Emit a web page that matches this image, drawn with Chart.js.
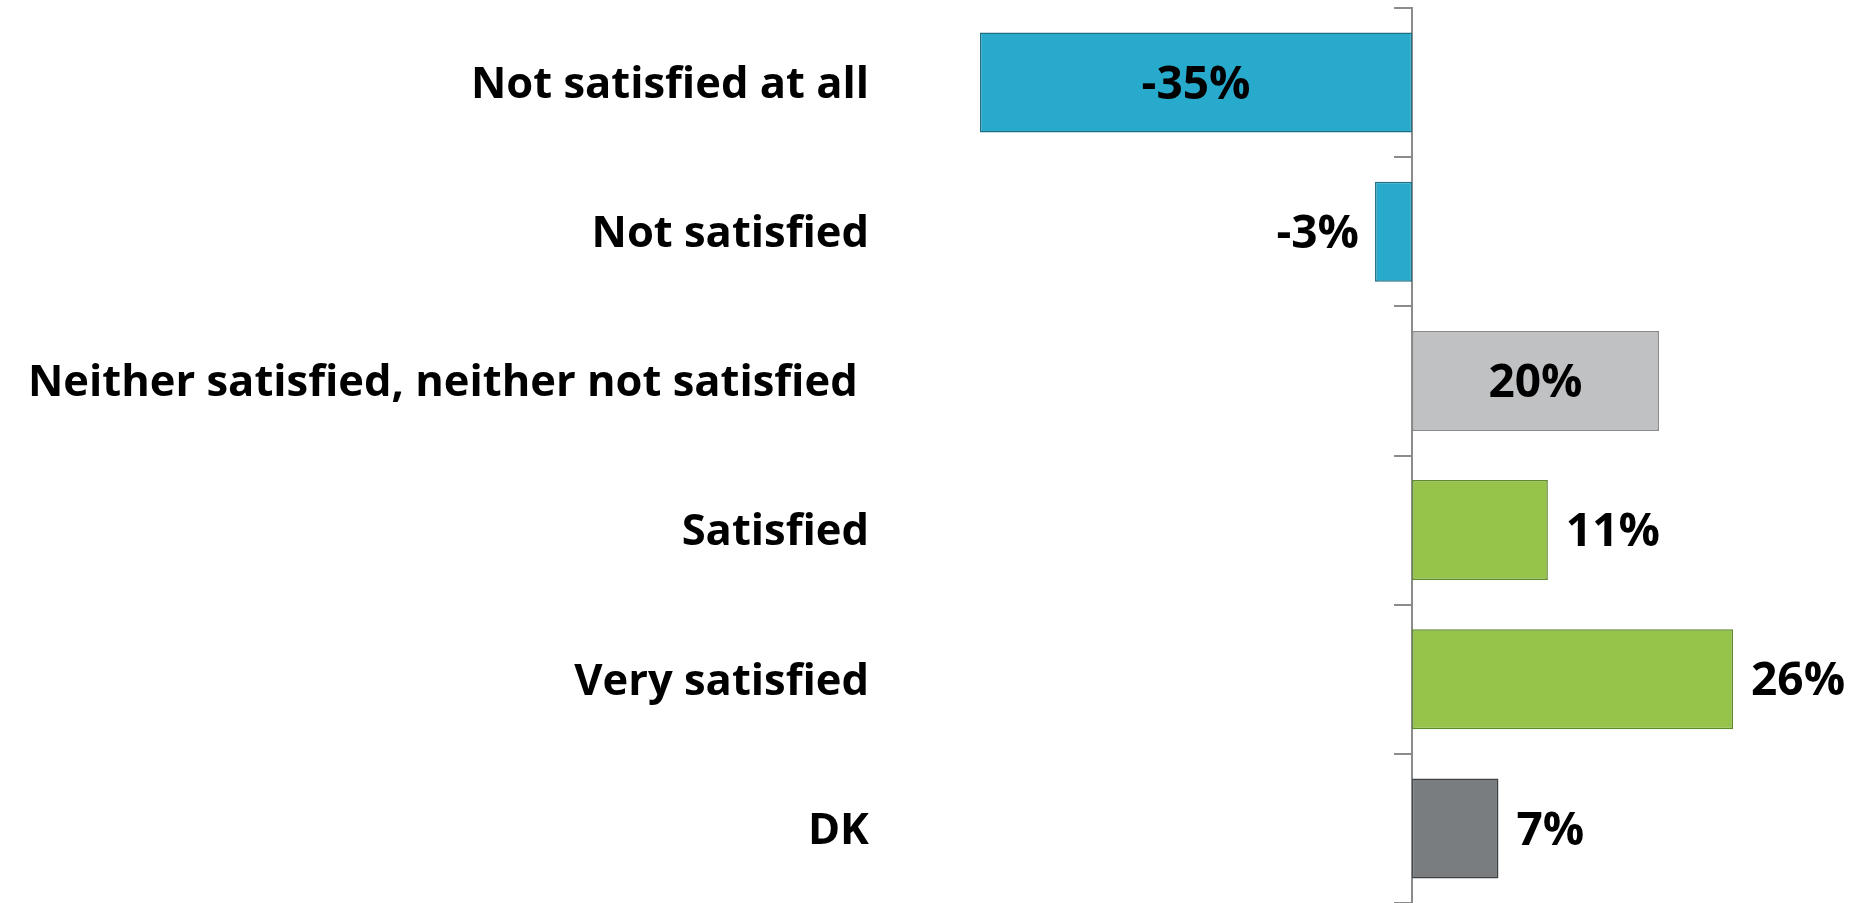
<!DOCTYPE html>
<html lang="en">
<head>
    <meta charset="UTF-8">
    <title>Satisfaction</title>
    <style>
        html, body {
            margin: 0;
            padding: 0;
            background: #fff;
        }
        .chart-box {
            width: 1875px;
            height: 903px;
        }
    </style>
</head>
<body>
    <div class="chart-box">
        <canvas id="satChart"></canvas>
    </div>

    <script src="https://cdn.jsdelivr.net/npm/chart.js"></script>
    <script>
        // chart data
        const categories = [
            'Not satisfied at all',
            'Not satisfied',
            'Neither satisfied, neither not satisfied ',
            'Satisfied',
            'Very satisfied',
            'DK'
        ];
        const values = [-35, -3, 20, 11, 26, 7];
        const axisMin = -43.1;
        const axisMax = 37.5;

        const fillColors = ['#27aacb', '#27aacb', '#c0c1c3', '#96c34a', '#96c34a', '#7a7d80'];
        const edgeColors = ['#1d6f84', '#1d6f84', '#8a8a8a', '#5e8a2c', '#5e8a2c', '#3f4245'];
        // where each value label sits
        const labelPlace = ['center', 'end', 'center', 'end', 'end', 'end'];

        const FONT = '"Open Sans", Lato, sans-serif';

        // draws the % labels on/next to the bars
        const valueLabels = {
            id: 'valueLabels',
            afterDatasetsDraw(chart) {
                const ctx = chart.ctx;
                const meta = chart.getDatasetMeta(0);
                ctx.save();
                ctx.font = 'bold 46px ' + FONT;
                ctx.fillStyle = '#000';
                ctx.textBaseline = 'middle';
                meta.data.forEach((bar, i) => {
                    const v = values[i];
                    const txt = v + '%';
                    const y = bar.y + 3;
                    if (labelPlace[i] === 'center') {
                        ctx.textAlign = 'center';
                        ctx.fillText(txt, (bar.x + bar.base) / 2, y);
                    } else if (v < 0) {
                        ctx.textAlign = 'right';
                        ctx.fillText(txt, bar.x - 16, y);
                    } else {
                        ctx.textAlign = 'left';
                        ctx.fillText(txt, bar.x + 18, y);
                    }
                });
                ctx.restore();
            }
        };

        const ctx = document.getElementById('satChart').getContext('2d');
        new Chart(ctx, {
            type: 'bar',
            data: {
                labels: categories,
                datasets: [{
                    data: values,
                    backgroundColor: fillColors,
                    borderColor: edgeColors,
                    borderWidth: 1.5,
                    borderSkipped: false,
                    barPercentage: 0.67,
                    categoryPercentage: 1.0
                }]
            },
            options: {
                indexAxis: 'y',
                responsive: true,
                maintainAspectRatio: false,
                animation: false,
                layout: {
                    padding: { top: 8, right: 0, bottom: 0, left: 0 }
                },
                plugins: {
                    legend: { display: false },
                    tooltip: { enabled: false }
                },
                scales: {
                    x: {
                        min: axisMin,
                        max: axisMax,
                        display: false
                    },
                    y: {
                        position: 'left',
                        grid: { display: false },
                        border: { display: false },
                        ticks: {
                            color: '#000',
                            padding: 3,
                            labelOffset: 3,
                            font: { family: FONT, size: 43.5, weight: 'bold' }
                        },
                        afterFit(scale) {
                            scale.width = 880;
                            // labels sit inside the categories, no extra room needed
                            scale.paddingTop = 0;
                            scale.paddingBottom = 0;
                        }
                    },
                    y2: {
                        type: 'category',
                        position: { x: 0 },
                        grid: {
                            drawOnChartArea: false,
                            drawTicks: true,
                            tickLength: 17,
                            offset: true,
                            color: '#8c8c8c',
                            lineWidth: 2
                        },
                        border: { display: true, color: '#8c8c8c', width: 2 },
                        ticks: { display: false }
                    }
                }
            },
            plugins: [valueLabels]
        });
    </script>
</body>
</html>
